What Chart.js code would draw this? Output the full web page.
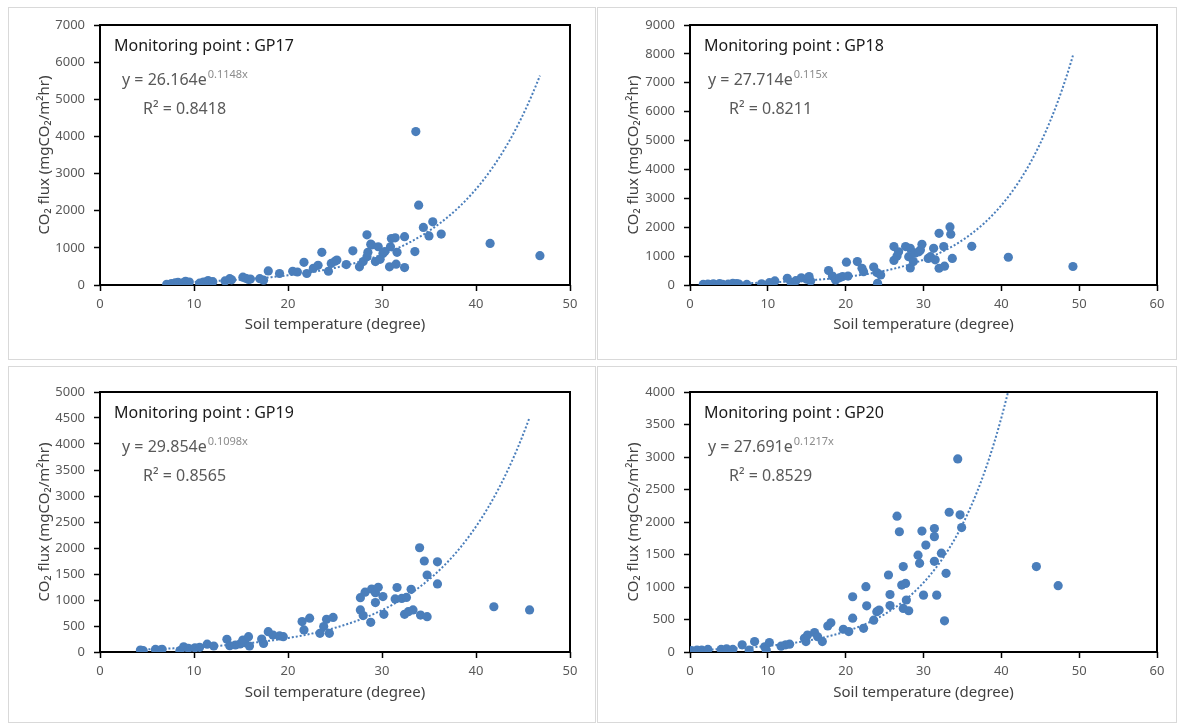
<!DOCTYPE html>
<html><head><meta charset="utf-8">
<script src="https://cdn.jsdelivr.net/npm/chart.js@4"></script>
<style>
body{margin:0;background:#fff;width:1182px;height:726px;position:relative;overflow:hidden}
.frame{position:absolute;border:1px solid #d9d9d9;box-sizing:border-box}
.holder{position:absolute}
</style></head><body>
<div class="frame" style="left:8px;top:7px;width:588px;height:353px"></div>
<div class="frame" style="left:597px;top:7px;width:580px;height:353px"></div>
<div class="frame" style="left:8px;top:366px;width:588px;height:357px"></div>
<div class="frame" style="left:597px;top:366px;width:580px;height:357px"></div>
<div class="holder" style="left:8px;top:7px"><canvas id="c1" width="587" height="352"></canvas></div>
<div class="holder" style="left:597px;top:7px"><canvas id="c2" width="579" height="352"></canvas></div>
<div class="holder" style="left:8px;top:366px"><canvas id="c3" width="587" height="356"></canvas></div>
<div class="holder" style="left:597px;top:366px"><canvas id="c4" width="579" height="356"></canvas></div>
<script>
// ---- Data (soil temperature in degrees, CO2 flux in mgCO2/m2hr) ----
const gp17Temp = [7.1,7.6,8.0,8.3,8.8,9.1,9.5,10.6,11.0,11.5,12.0,13.3,13.8,14.0,15.2,15.5,15.8,16.0,17.4,17.0,17.9,19.1,20.5,21.0,21.7,22.0,22.7,23.2,23.6,24.3,24.6,25.0,25.2,26.2,26.9,27.6,28.0,28.4,28.4,28.5,28.8,28.9,29.3,29.6,29.8,30.1,30.3,30.8,30.9,31.0,31.4,31.5,31.6,32.4,32.4,33.5,33.6,33.9,34.4,35.0,35.4,36.3,41.5,46.8];
const gp17Flux = [20,40,55,70,60,100,80,50,80,120,90,110,170,140,210,180,150,160,130,170,380,310,370,350,610,310,450,530,880,370,580,640,670,550,920,490,630,760,1350,880,1100,1080,630,1030,690,850,900,490,1030,1250,1270,560,880,1300,470,900,4130,2150,1550,1320,1700,1370,1120,790];

const gp18Temp = [1.7,2.3,2.8,3.0,3.8,4.2,4.9,5.5,6.0,6.3,7.3,9.2,10.2,10.9,12.5,13.0,13.6,14.3,15.0,15.3,15.5,17.8,18.3,18.7,19.2,19.6,20.3,20.1,21.5,22.1,22.3,23.6,24.0,24.1,24.5,26.2,26.2,26.6,26.8,27.7,28.1,28.3,28.3,28.7,28.9,29.4,29.6,29.8,30.6,30.9,31.3,31.5,32.0,32.0,32.6,32.7,33.4,33.5,33.7,36.2,40.9,49.2];
const gp18Flux = [20,30,10,40,50,20,30,60,50,30,20,40,80,140,230,80,150,250,200,290,140,500,310,170,250,290,310,790,810,580,460,620,430,60,350,1330,850,1000,1150,1330,980,1270,590,810,1100,1150,1210,1410,920,980,1270,870,1790,580,1330,650,2010,1760,920,1340,960,640];

const gp19Temp = [4.3,4.6,5.9,6.4,6.6,8.5,8.9,9.4,10.1,10.6,11.4,12.1,13.5,13.8,14.4,14.9,15.2,15.4,15.8,15.9,17.2,17.4,17.9,18.4,19.1,19.5,21.5,21.7,22.3,23.4,23.8,24.1,24.4,24.8,27.7,27.7,28.0,28.2,28.8,28.9,29.3,29.3,29.6,30.1,30.2,31.4,31.6,32.1,32.4,32.6,32.8,33.1,33.3,34.0,34.1,34.5,34.8,34.8,35.9,35.9,41.9,45.7];
const gp19Flux = [38,25,50,38,52,25,100,70,80,90,150,115,245,120,135,155,230,180,295,115,250,165,390,325,310,295,585,425,650,360,490,630,360,665,1045,810,700,1150,570,1210,1140,950,1245,1065,725,1020,1240,1030,725,1050,775,1205,810,2005,710,1750,1480,680,1735,1310,870,810];

const gp20Temp = [0.2,0.9,1.5,2.3,4.0,4.7,5.5,6.7,7.6,8.3,9.6,9.8,10.2,11.7,12.3,12.8,14.7,14.9,15.1,16.0,16.4,17.0,17.7,18.1,19.7,20.4,20.9,20.9,22.3,22.6,22.7,23.6,24.0,24.3,25.5,25.7,25.7,26.6,26.9,27.2,27.4,27.4,27.7,27.8,28.1,29.3,29.5,29.8,30.0,30.3,31.4,31.4,31.4,31.7,32.3,32.7,32.9,33.3,34.4,34.7,34.9,44.5,47.3];
const gp20Flux = [20,30,30,40,40,50,40,110,30,160,80,30,145,90,110,120,210,160,260,300,235,160,400,450,350,315,850,520,365,1005,710,490,620,645,1185,885,715,2090,1850,1030,1315,670,1055,800,635,1490,1365,1860,875,1645,1900,1775,1395,875,1520,480,1210,2150,2970,2110,1915,1315,1020];

// exponential trendline coefficients y = a * e^(b x), as printed on the chart
const gp17Trend = [26.164, 0.1148];
const gp18Trend = [27.714, 0.115];
const gp19Trend = [29.854, 0.1098];
const gp20Trend = [27.691, 0.1217];
const r2Values = ['0.8418','0.8211','0.8565','0.8529'];
const pointNames = ['GP17','GP18','GP19','GP20'];
const xTicks50 = [0,10,20,30,40,50];
const xTicks60 = [0,10,20,30,40,50,60];

const FONT = "'Noto Sans', 'Open Sans', sans-serif";
const BLUE = '#4A7EBB';

const framePlugin = {
  id:'frame',
  beforeDatasetsDraw(chart){
    const {ctx, chartArea:a} = chart;
    ctx.save();
    ctx.strokeStyle = '#000';
    ctx.lineWidth = 2;
    ctx.strokeRect(a.left, a.top, a.right - a.left, a.bottom - a.top);
    ctx.restore();
  }
};
const notesPlugin = {
  id:'notes',
  afterDraw(chart, args, opts){
    const {ctx, chartArea:a} = chart;
    ctx.save();
    ctx.textBaseline = 'middle';
    ctx.textAlign = 'left';
    ctx.fillStyle = '#1a1a1a';
    ctx.font = '16px ' + FONT;
    ctx.fillText(opts.title, a.left + 14, a.top + 21);
    ctx.fillStyle = '#595959';
    ctx.font = '16px ' + FONT;
    const base = 'y = ' + opts.a + 'e';
    const ex = a.left + opts.eqDx, ey = a.top + 55;
    ctx.fillText(base, ex, ey);
    const w = ctx.measureText(base).width;
    ctx.fillStyle = '#8c8c8c';
    ctx.font = '11px ' + FONT;
    ctx.fillText(opts.b + 'x', ex + w + 1, ey - 5);
    ctx.fillStyle = '#595959';
    ctx.font = '16px ' + FONT;
    ctx.fillText('R\u00B2 = ' + opts.r2, a.left + opts.eqDx + 21, a.top + 84);
    ctx.restore();
  }
};

function makeChart(id, temp, flux, trend, idx, cfg){
  const pts = temp.map((x,i)=>({x:x, y:flux[i]}));
  const lo = Math.min(...temp), hi = Math.max(...temp);
  const tr = [];
  for(let k=0;k<=200;k++){ const x = lo + (hi-lo)*k/200; tr.push({x:x, y: trend[0]*Math.exp(trend[1]*x)}); }
  return new Chart(document.getElementById(id), {
    type:'scatter',
    data:{datasets:[
      {type:'line', data:tr, borderColor:BLUE, borderWidth:2, borderDash:[2,2], pointRadius:0, fill:false, tension:0, order:0},
      {data:pts, backgroundColor:BLUE, borderWidth:0, pointRadius:4.6, pointHoverRadius:4.6, order:1}
    ]},
    options:{
      responsive:false, animation:false, events:[],
      layout:{padding:{top:cfg.padTop, right:cfg.padRight, left:0, bottom:0}},
      plugins:{legend:{display:false}, tooltip:{enabled:false},
        notes:{title:'Monitoring point : ' + pointNames[idx], a:String(trend[0]), b:String(trend[1]), r2:r2Values[idx], eqDx:cfg.eqDx}},
      scales:{
        x:{type:'linear', min:0, max:cfg.xMax,
          afterBuildTicks(s){ s.ticks = cfg.xTicks.map(v=>({value:v})); },
          afterFit(s){ s.height = cfg.xh; },
          ticks:{color:'#595959', font:{size:13, family:FONT}, padding:5, maxRotation:0, callback:v=>String(v)},
          grid:{drawOnChartArea:false, drawTicks:true, tickLength:6, tickColor:'#000', tickWidth:1.5},
          border:{display:false},
          title:{display:true, text:'Soil temperature (degree)', color:'#404040', font:{size:15, family:FONT}, padding:{top:0, bottom:cfg.xTitlePad}}
        },
        y:{type:'linear', min:0, max:cfg.yMax,
          afterBuildTicks(s){ const t=[]; for(let v=0; v<=cfg.yMax; v+=cfg.yStep) t.push({value:v}); s.ticks=t; },
          afterFit(s){ s.width = cfg.yw; },
          ticks:{color:'#595959', font:{size:13, family:FONT}, padding:9, callback:v=>String(v)},
          grid:{drawOnChartArea:false, drawTicks:true, tickLength:6, tickColor:'#000', tickWidth:1.5},
          border:{display:false},
          title:{display:true, text:'CO\u2082 flux (mgCO\u2082/m\u00B2hr)', color:'#404040', font:{size:15, family:FONT}, padding:{top:28, bottom:0}}
        }
      }
    },
    plugins:[framePlugin, notesPlugin]
  });
}

makeChart('c1', gp17Temp, gp17Flux, gp17Trend, 0, {xMax:50, xTicks:xTicks50, yMax:7000, yStep:1000, padTop:18, padRight:25, yw:92, xh:74, xTitlePad:25, eqDx:22});
makeChart('c2', gp18Temp, gp18Flux, gp18Trend, 1, {xMax:60, xTicks:xTicks60, yMax:9000, yStep:1000, padTop:18, padRight:19, yw:93, xh:74, xTitlePad:25, eqDx:18});
makeChart('c3', gp19Temp, gp19Flux, gp19Trend, 2, {xMax:50, xTicks:xTicks50, yMax:5000, yStep:500, padTop:26, padRight:25, yw:92, xh:70, xTitlePad:20, eqDx:22});
makeChart('c4', gp20Temp, gp20Flux, gp20Trend, 3, {xMax:60, xTicks:xTicks60, yMax:4000, yStep:500, padTop:26, padRight:19, yw:93, xh:70, xTitlePad:20, eqDx:18});
</script>
</body></html>
